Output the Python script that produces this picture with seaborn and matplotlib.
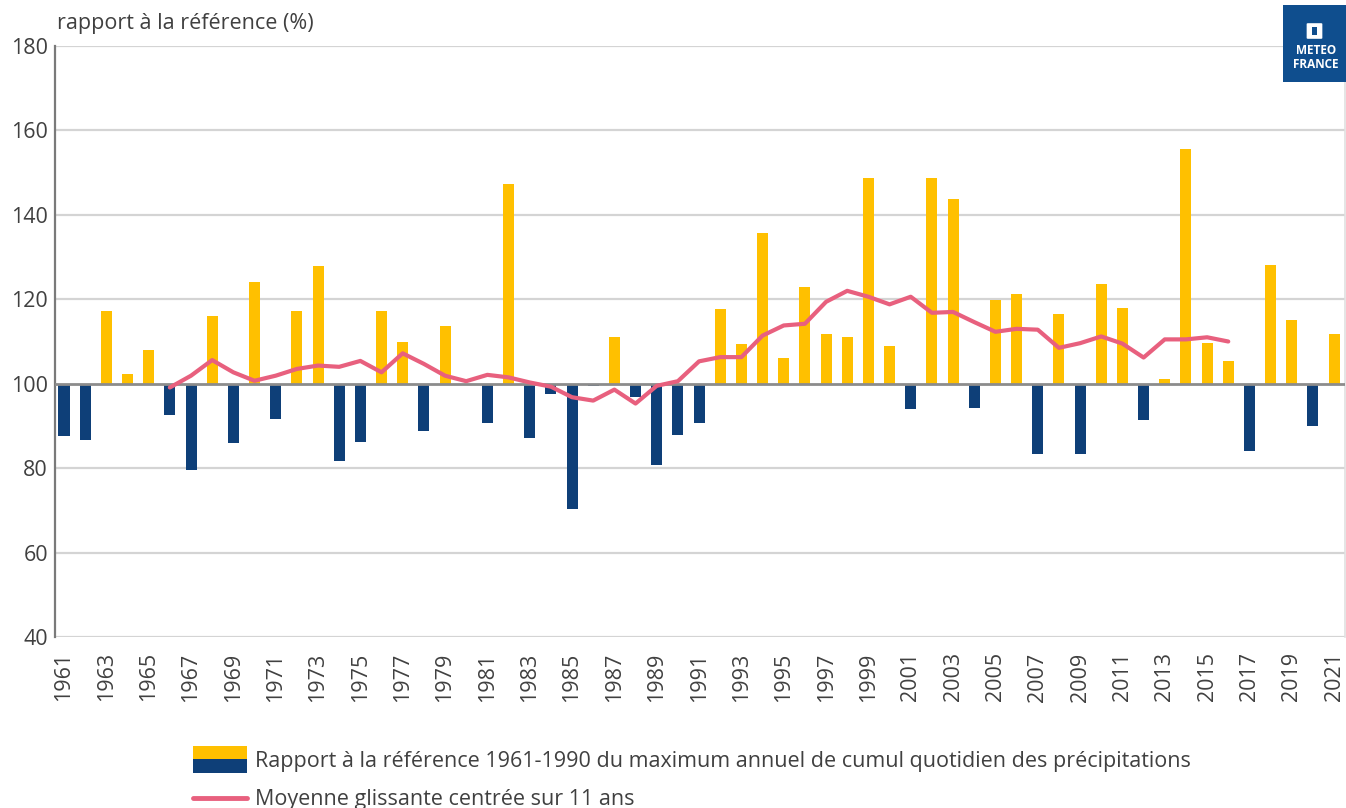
import numpy as np
import pandas as pd
import matplotlib
matplotlib.use("Agg")
import matplotlib.pyplot as plt
import seaborn as sns
from matplotlib.patches import Rectangle, FancyBboxPatch
from matplotlib.lines import Line2D
from matplotlib.legend_handler import HandlerBase
from matplotlib.ticker import FuncFormatter, FixedLocator

# ---------------- data ----------------
years = list(range(1961, 2022))
ratio = [87.7, 86.7, 117.3, 102.3, 108.0, 92.5, 79.5, 116.0, 85.9, 124.0,
         91.6, 117.2, 128.0, 81.8, 86.3, 117.2, 109.8, 88.9, 113.7, 100.0,
         90.8, 147.3, 87.1, 97.6, 70.3, 99.5, 111.0, 96.9, 80.8, 87.9,
         90.8, 117.7, 109.5, 135.6, 106.1, 122.8, 111.8, 111.1, 148.7, 108.9,
         94.0, 148.7, 143.7, 94.2, 119.9, 121.3, 83.3, 116.6, 83.3, 123.6,
         118.0, 91.5, 101.2, 155.6, 109.7, 105.4, 84.0, 128.2, 115.2, 89.9,
         111.7]
ma_years = list(range(1966, 2017))
moving_avg = [99.1, 101.9, 105.6, 102.7, 100.7, 101.9, 103.5, 104.3, 104.0, 105.4,
              102.7, 107.2, 104.7, 101.9, 100.6, 102.1, 101.5, 100.3, 99.3, 96.8,
              96.0, 98.6, 95.3, 99.5, 100.6, 105.3, 106.3, 106.3, 111.4, 113.8,
              114.2, 119.4, 122.0, 120.6, 118.8, 120.6, 116.8, 117.0, 114.6, 112.3,
              113.0, 112.8, 108.5, 109.6, 111.2, 109.5, 106.2, 110.5, 110.5, 111.0,
              110.0]
y_ticks = [40, 60, 80, 100, 120, 140, 160, 180]
x_tick_years = list(range(1961, 2022, 2))
reference = 100

label_bars = "Rapport à la référence 1961-1990 du maximum annuel de cumul quotidien des précipitations"
label_line = "Moyenne glissante centrée sur 11 ans"
y_title = "rapport à la référence (%)"

# ---------------- style ----------------
YELLOW = "#FFC000"
BLUE = "#0E3F78"
PINK = "#E8607E"
TXT = "#404040"
FS = 15.5

sns.set_theme(style="white")
plt.rcParams["font.family"] = ["Open Sans", "DejaVu Sans"]

df = pd.DataFrame({"year": years, "ratio": ratio})
df["dev"] = df["ratio"] - reference
df["sign"] = np.where(df["dev"] >= 0, "pos", "neg")
ma = pd.DataFrame({"year": ma_years, "dev": np.array(moving_avg) - reference})

fig = plt.figure(figsize=(13.46, 8.08), dpi=100)
ax = fig.add_axes([55 / 1346, 171 / 808, 1290 / 1346, 591 / 808])

# grid
for t in y_ticks:
    if t == reference:
        continue
    ax.axhline(t - reference, color="#d4d4d4", lw=1.6, zorder=0)

sns.barplot(data=df, x="year", y="dev", hue="sign",
            palette={"pos": YELLOW, "neg": BLUE}, dodge=False,
            native_scale=True, width=0.52, errorbar=None, legend=False,
            saturation=1, ax=ax, zorder=2, linewidth=0)

ax.axhline(0, color="#8c8c8c", lw=2.0, zorder=3)

sns.lineplot(data=ma, x="year", y="dev", color=PINK, lw=3.0, ax=ax, zorder=4)

ax.set_xlim(1960.575, 2021.515)
ax.set_ylim(y_ticks[0] - reference, y_ticks[-1] - reference)
ax.yaxis.set_major_locator(FixedLocator([t - reference for t in y_ticks]))
ax.yaxis.set_major_formatter(FuncFormatter(lambda v, p: f"{v + reference:.0f}"))
ax.set_xticks(x_tick_years)
ax.set_xticklabels([str(y) for y in x_tick_years], rotation=90)
ax.tick_params(axis="both", length=0, labelsize=FS, labelcolor=TXT)
ax.tick_params(axis="y", pad=5)
ax.tick_params(axis="x", pad=11)
ax.set_xlabel("")
ax.set_ylabel("")

for s in ["top", "bottom"]:
    ax.spines[s].set_visible(False)
ax.spines["left"].set_color("#7a7a7a")
ax.spines["left"].set_linewidth(1.6)
ax.spines["right"].set_color("#e0e0e0")
ax.spines["right"].set_linewidth(1.2)

fig.text(57 / 1346, 1 - 24 / 808, y_title, fontsize=FS, color=TXT,
         ha="left", va="center")


# ---------------- legend ----------------
class SplitHandler(HandlerBase):
    def create_artists(self, legend, orig_handle, xdescent, ydescent,
                       width, height, fontsize, trans):
        extra = height * 0.4
        h = height + 2 * extra
        y0 = -ydescent - extra
        top = Rectangle((-xdescent, y0 + h / 2), width, h / 2,
                        facecolor=YELLOW, edgecolor="none", transform=trans)
        bot = Rectangle((-xdescent, y0), width, h / 2,
                        facecolor=BLUE, edgecolor="none", transform=trans)
        return [top, bot]


bar_handle = Rectangle((0, 0), 1, 1)
line_handle = Line2D([], [], color=PINK, lw=3.5)
leg = fig.legend([bar_handle, line_handle], [label_bars, label_line],
                 handler_map={Rectangle: SplitHandler()},
                 loc="upper left", bbox_to_anchor=(193 / 1346, 1 - 751 / 808),
                 frameon=False, fontsize=FS, handlelength=2.5,
                 handletextpad=0.37, labelspacing=0.8, borderpad=0,
                 borderaxespad=0)
for t in leg.get_texts():
    t.set_color(TXT)

# ---------------- logo ----------------
LOGO = "#0F4E8E"
fig.add_artist(Rectangle((1283 / 1346, 1 - 82 / 808), 63 / 1346, 77 / 808,
                         transform=fig.transFigure, facecolor=LOGO,
                         edgecolor="none", zorder=5))
fig.add_artist(FancyBboxPatch((1308 / 1346, 1 - 38 / 808), 13 / 1346, 14 / 808,
                              boxstyle="round,pad=0.001", transform=fig.transFigure,
                              facecolor="white", edgecolor="none", zorder=6))
fig.add_artist(Rectangle((1312 / 1346, 1 - 35 / 808), 5 / 1346, 8 / 808,
                         transform=fig.transFigure, facecolor=LOGO,
                         edgecolor="none", zorder=7))
fig.text(1316 / 1346, 1 - 50 / 808, "METEO", color="white", fontsize=8.5,
         fontweight="bold", ha="center", va="center", zorder=7)
fig.text(1316 / 1346, 1 - 64 / 808, "FRANCE", color="white", fontsize=8.5,
         fontweight="bold", ha="center", va="center", zorder=7)

fig.savefig("out.png", dpi=100)
